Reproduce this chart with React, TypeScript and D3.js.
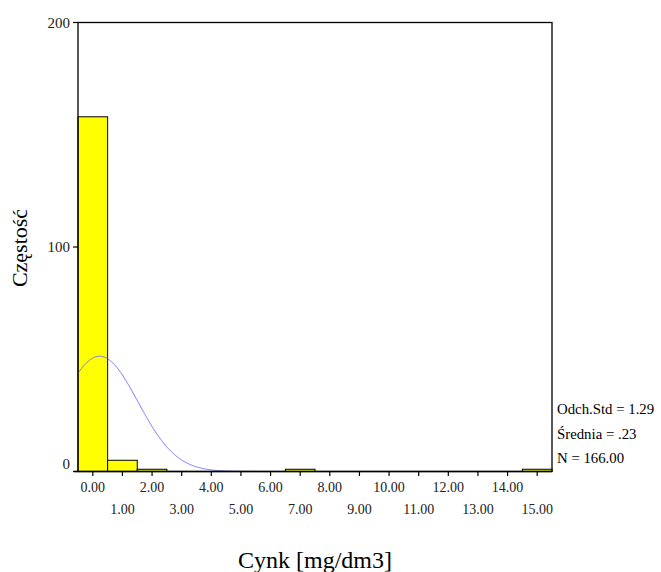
import React from "react";
import * as d3 from "d3";

// Histogram of zinc concentration with fitted normal curve
const binCenters = [0, 1, 2, 7, 15];
const binCounts = [158, 5, 1, 1, 1];
const yTicks = [0, 100, 200];
const xTicks = d3.range(0, 16);
const statLabels = ["Odch.Std = 1.29", "Średnia = .23", "N = 166.00"];
const stdDev = 1.29;
const meanValue = 0.23;
const nTotal = 166;
const binWidth = 1;

const W = 661;
const H = 572;
const left = 78;
const right = 552;
const top = 22.5;
const bottom = 471.5;
const FONT = "'Liberation Serif', 'Times New Roman', serif";

export default function App() {
  const x = d3.scaleLinear().domain([-0.5, 15.5]).range([left, right]);
  const y = d3.scaleLinear().domain([0, 200]).range([bottom, top]);

  const pdf = (v: number) =>
    (nTotal * binWidth) / (stdDev * Math.sqrt(2 * Math.PI)) *
    Math.exp(-0.5 * ((v - meanValue) / stdDev) ** 2);
  const curvePts = d3.range(-0.5, 15.5001, 0.02).map((v) => [v, pdf(v)] as [number, number]);
  const line = d3
    .line<[number, number]>()
    .x((d) => x(d[0]))
    .y((d) => y(d[1]))
    .curve(d3.curveLinear);

  return (
    <svg width={W} height={H} style={{ position: "absolute", left: 0, top: 0, background: "#fff" }}>
      <rect x={0} y={0} width={W} height={H} fill="#fff" />
      {/* bars */}
      {binCenters.map((c, i) => (
        <rect
          key={c}
          x={x(c - binWidth / 2)}
          y={y(binCounts[i])}
          width={x(c + binWidth / 2) - x(c - binWidth / 2)}
          height={bottom - y(binCounts[i])}
          fill="#ffff00"
          stroke="#000"
          strokeWidth={1}
        />
      ))}
      {/* normal curve */}
      <path d={line(curvePts) || ""} fill="none" stroke="#7373ff" strokeWidth={1} />
      {/* frame */}
      <rect x={left} y={top} width={right - left} height={bottom - top} fill="none" stroke="#000" strokeWidth={1.3} />
      <line x1={left - 4} x2={right} y1={bottom} y2={bottom} stroke="#000" strokeWidth={1.3} />
      {/* y axis */}
      {yTicks.map((t) => (
        <g key={t}>
          <line x1={left - 5} x2={left} y1={y(t)} y2={y(t)} stroke="#000" strokeWidth={1.2} />
          <text
            x={left - 8}
            y={Math.min(y(t), bottom - 8)}
            dy="0.35em"
            textAnchor="end"
            fontFamily={FONT}
            fontSize={15}
            fill="#222"
          >
            {t}
          </text>
        </g>
      ))}
      {/* x axis */}
      {xTicks.map((t) => (
        <g key={t}>
          <line x1={x(t)} x2={x(t)} y1={bottom} y2={bottom + 4.5} stroke="#000" strokeWidth={1.2} />
          <text
            x={x(t)}
            y={t % 2 === 0 ? 487 : 509}
            dy="0.35em"
            textAnchor="middle"
            fontFamily={FONT}
            fontSize={14}
            fill="#222"
          >
            {t.toFixed(2)}
          </text>
        </g>
      ))}
      {/* statistics */}
      {statLabels.map((s, i) => (
        <text key={s} x={557} y={409 + i * 24.5} dy="0.35em" fontFamily={FONT} fontSize={14.8} fill="#000">
          {s}
        </text>
      ))}
      {/* axis titles */}
      <text x={315} y={560} dy="0.35em" textAnchor="middle" fontFamily={FONT} fontSize={24} fill="#000">
        Cynk [mg/dm3]
      </text>
      <text
        transform={`translate(19,248) rotate(-90)`}
        dy="0.35em"
        textAnchor="middle"
        fontFamily={FONT}
        fontSize={22}
        fill="#000"
      >
        Częstość
      </text>
    </svg>
  );
}
